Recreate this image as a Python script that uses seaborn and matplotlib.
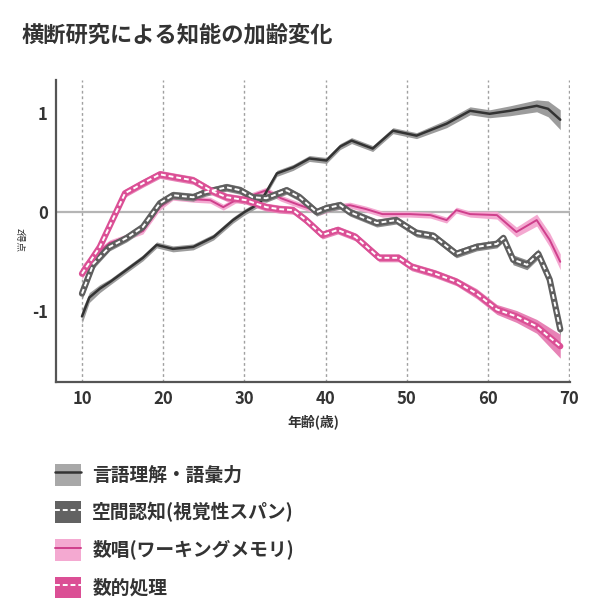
import numpy as np
import pandas as pd
import matplotlib
matplotlib.use("Agg")
import matplotlib.pyplot as plt
import seaborn as sns
from matplotlib.patches import Patch
from matplotlib.lines import Line2D
from matplotlib.legend_handler import HandlerTuple

sns.set_style("white")
plt.rcParams['font.family'] = ['Noto Sans CJK JP', 'DejaVu Sans']

title = "横断研究による知能の加齢変化"
xlabel = "年齢(歳)"
ylabel = "z得点"
labels = ["言語理解・語彙力", "空間認知(視覚性スパン)", "数唱(ワーキングメモリ)", "数的処理"]
xticks = [10, 20, 30, 40, 50, 60, 70]
yticks = [-1, 0, 1]

verbal_age = [10, 10.9, 12.2, 13.5, 15.5, 17.5, 19.2, 21.2, 23.7, 26.2, 28.6, 30, 31.9, 34, 36, 38,
              40.1, 41.8, 43.2, 45.8, 48.3, 51.2, 54.9, 57.8, 60.2, 62.7, 66, 67.4, 68.9]
verbal_val = [-1.05, -0.86, -0.77, -0.7, -0.58, -0.46, -0.33, -0.37, -0.35, -0.25, -0.08, 0.0, 0.09,
              0.39, 0.45, 0.54, 0.52, 0.66, 0.72, 0.64, 0.82, 0.77, 0.89, 1.02, 0.99, 1.02, 1.07, 1.04, 0.93]
verbal_ci = [0.07, 0.05, 0.04, 0.03, 0.03, 0.03, 0.03, 0.03, 0.03, 0.03, 0.03, 0.03, 0.03,
             0.03, 0.03, 0.03, 0.03, 0.03, 0.03, 0.03, 0.03, 0.03, 0.04, 0.04, 0.04, 0.05, 0.06, 0.08, 0.1]

spatial_age = [10, 11.4, 13.4, 15.5, 17.5, 19.6, 21.2, 23.7, 25.2, 27.8, 29.5, 31, 32.7, 35.2, 36.8,
               38.9, 40.1, 41.8, 43, 46.3, 48.7, 51.2, 53.3, 56.1, 58.6, 61.1, 61.9, 63.1, 64.8, 66.2,
               67.6, 68.9]
spatial_val = [-0.82, -0.52, -0.35, -0.26, -0.15, 0.09, 0.17, 0.15, 0.2, 0.25, 0.22, 0.15, 0.14, 0.22,
               0.15, 0.0, 0.04, 0.07, 0.0, -0.11, -0.08, -0.21, -0.24, -0.42, -0.35, -0.32, -0.26,
               -0.48, -0.53, -0.42, -0.68, -1.18]
spatial_ci = [0.06, 0.05, 0.04, 0.04, 0.04, 0.04, 0.04, 0.04, 0.04, 0.04, 0.04, 0.04, 0.04, 0.04,
              0.04, 0.04, 0.04, 0.04, 0.04, 0.04, 0.04, 0.04, 0.04, 0.04, 0.04, 0.04, 0.04,
              0.05, 0.05, 0.05, 0.06, 0.08]

digit_age = [10, 11.4, 13.4, 15.5, 17.5, 19.6, 21.2, 23.7, 25.8, 27.4, 28.9, 31, 32.7, 34.5, 36.8,
             39.3, 41, 43, 45, 47, 50.4, 52.9, 54.9, 56.1, 57.8, 61.1, 63.5, 66, 67.6, 68.9]
digit_val = [-0.58, -0.45, -0.31, -0.25, -0.19, 0.05, 0.15, 0.13, 0.12, 0.05, 0.12, 0.17, 0.22, 0.14,
             0.07, 0.0, 0.05, 0.07, 0.03, -0.02, -0.02, -0.03, -0.08, 0.02, -0.02, -0.03, -0.2,
             -0.08, -0.28, -0.5]
digit_ci = [0.05, 0.04, 0.03, 0.03, 0.03, 0.03, 0.03, 0.03, 0.03, 0.03, 0.03, 0.03, 0.03, 0.03,
            0.03, 0.03, 0.03, 0.03, 0.03, 0.03, 0.03, 0.03, 0.03, 0.03, 0.03, 0.04, 0.05,
            0.06, 0.07, 0.08]

numer_age = [10, 12.2, 15.3, 17.5, 19.6, 21.6, 23.7, 25.8, 27.8, 30.2, 32.7, 34.3, 36, 37.6, 39.6,
             41.5, 43.7, 46.6, 49, 50.6, 53.5, 56.1, 58.6, 61.1, 63.5, 66, 68.9]
numer_val = [-0.62, -0.35, 0.19, 0.29, 0.38, 0.35, 0.32, 0.22, 0.15, 0.12, 0.05, 0.03, 0.02, -0.08,
             -0.23, -0.18, -0.25, -0.46, -0.46, -0.55, -0.62, -0.7, -0.82, -0.98, -1.05, -1.15, -1.35]
numer_ci = [0.05, 0.04, 0.04, 0.04, 0.04, 0.04, 0.04, 0.04, 0.04, 0.04, 0.04, 0.04, 0.04, 0.04,
            0.04, 0.04, 0.04, 0.04, 0.04, 0.04, 0.04, 0.04, 0.05, 0.05, 0.06, 0.07, 0.12]

fig = plt.figure(figsize=(6.0, 6.15), dpi=100)
ax = fig.add_axes([56/600, 1-382/615, (570-56)/600, (382-80)/615])

for xv in xticks:
    ax.axvline(xv, color="#a0a0a0", lw=1.0, ls=(0, (2, 2)), zorder=0)
ax.axhline(0, color="#b5b5b5", lw=1.6, zorder=0)

DASH = (0, (2.5, 1.5))

def draw(age, val, ci, line_color, band_color, lw, dashed, outer_lw=None):
    a = np.array(age); v = np.array(val); c = np.array(ci)
    ax.fill_between(a, v - c, v + c, color=band_color, lw=0, zorder=2)
    df = pd.DataFrame({"age": a, "val": v})
    if dashed:
        sns.lineplot(data=df, x="age", y="val", ax=ax, color=line_color, lw=outer_lw, zorder=3,
                     solid_joinstyle="round")
        sns.lineplot(data=df, x="age", y="val", ax=ax, color="white", lw=1.4, zorder=4,
                     linestyle=DASH)
    else:
        sns.lineplot(data=df, x="age", y="val", ax=ax, color=line_color, lw=lw, zorder=3,
                     solid_joinstyle="round")

draw(digit_age, digit_val, digit_ci, "#cf3f8c", "#f4a9d1", 1.4, False)
draw(verbal_age, verbal_val, verbal_ci, "#333333", "#9c9c9c", 1.8, False)
draw(spatial_age, spatial_val, spatial_ci, "#5e5e5e", "#8a8a8a", None, True, outer_lw=4.5)
draw(numer_age, numer_val, numer_ci, "#db4f95", "#e783b6", None, True, outer_lw=4.5)

ax.set_xlim(6.8, 70.1)
ax.set_ylim(-1.71, 1.33)
ax.set_xticks(xticks)
ax.set_yticks(yticks)
ax.set_xticklabels([str(t) for t in xticks], fontsize=12, fontweight="semibold", color="#333333")
ax.set_yticklabels([str(t) for t in yticks], fontsize=12, fontweight="semibold", color="#333333")
ax.tick_params(direction="in", length=6, width=1.2, color="#555555", pad=6)
ax.set_xlabel(xlabel, fontsize=10, fontweight="bold", color="#333333", labelpad=4)
ax.set_ylabel("")
for s in ["top", "right"]:
    ax.spines[s].set_visible(False)
for s in ["left", "bottom"]:
    ax.spines[s].set_color("#555555")
    ax.spines[s].set_linewidth(1.6)

fig.text(22/600, 1-35/615, title, fontsize=16, fontweight="bold", color="#333333", va="center", ha="left")
fig.text(20/600, 1-240/615, ylabel, fontsize=7, rotation=270, color="#333333", va="center", ha="center")

handles = [
    (Patch(facecolor="#a8a8a8", edgecolor="none"), Line2D([], [], color="#333333", lw=1.8)),
    (Patch(facecolor="#626262", edgecolor="none"), Line2D([], [], color="white", lw=1.4, ls=DASH)),
    (Patch(facecolor="#f4a9d1", edgecolor="none"), Line2D([], [], color="#cf3f8c", lw=1.4)),
    (Patch(facecolor="#db4f95", edgecolor="none"), Line2D([], [], color="white", lw=1.4, ls=DASH)),
]
fig.legend(handles, labels, loc="upper left", bbox_to_anchor=(38/600, 1-447/615), frameon=False,
           handler_map={tuple: HandlerTuple(ndivide=1, pad=0)},
           handlelength=1.4, handleheight=1.4, labelspacing=0.85, handletextpad=0.6,
           borderpad=0.4, prop={"size": 13.5, "weight": "bold"}, labelcolor="#333333")

fig.savefig("out.png", dpi=100)
